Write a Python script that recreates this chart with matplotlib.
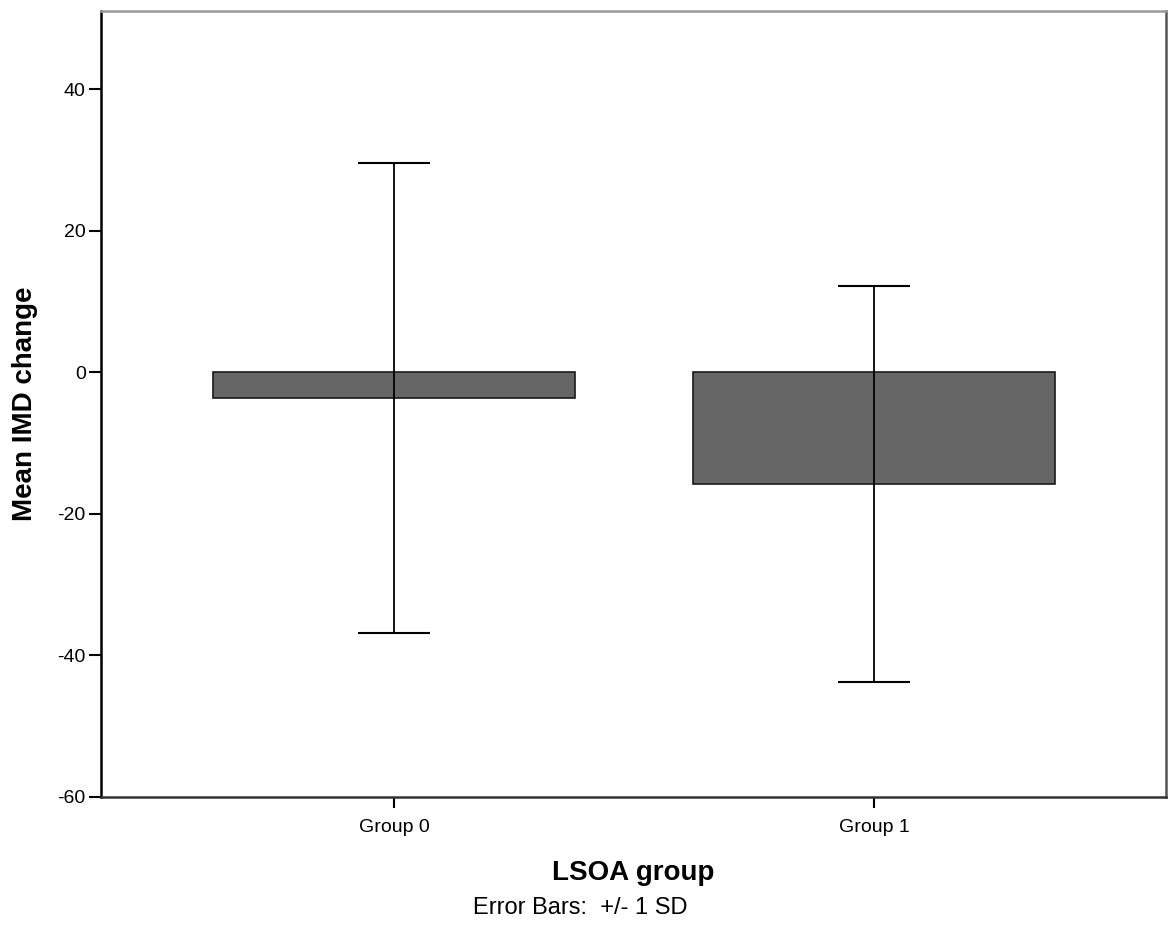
import matplotlib
matplotlib.use("Agg")
import matplotlib.pyplot as plt
import numpy as np

plt.rcParams['font.family'] = ['Liberation Sans', 'DejaVu Sans']
plt.rcParams['axes.unicode_minus'] = False

# datos
groups = ["Group 0", "Group 1"]
means = [-3.65, -15.8]
sds = [33.2, 28.0]

fig = plt.figure(figsize=(11.68, 9.43), dpi=100)
ax = fig.add_axes([0.0865, 0.155, 0.912, 0.8335])

x = np.arange(len(groups))
ax.bar(x, means, width=0.754, color="#666666", edgecolor="#1a1a1a", linewidth=1.2, zorder=2)
ax.errorbar(x, means, yerr=sds, fmt="none", ecolor="black", elinewidth=1.3,
            capsize=26, capthick=1.5, zorder=3)

ax.set_xlim(-0.61, 1.608)
ax.set_ylim(-60, 51.1)
ax.set_yticks([-60, -40, -20, 0, 20, 40])
ax.set_xticks(x)
ax.set_xticklabels(groups)

ax.tick_params(axis="y", length=9, width=1.5, pad=2, labelsize=14)
ax.tick_params(axis="x", length=8, width=1.5, pad=8, labelsize=14)

ax.spines["left"].set_color("black")
ax.spines["bottom"].set_color("#333333")
ax.spines["top"].set_color("#999999")
ax.spines["right"].set_color("#555555")
for s in ax.spines.values():
    s.set_linewidth(1.8)

ax.set_ylabel("Mean IMD change", fontsize=20, fontweight="bold", labelpad=14)
ax.set_xlabel("LSOA group", fontsize=20, fontweight="bold", labelpad=17)

fig.text(0.497, 0.037, "Error Bars:  +/- 1 SD", ha="center", va="center", fontsize=17)

fig.savefig("out.png", dpi=100)
